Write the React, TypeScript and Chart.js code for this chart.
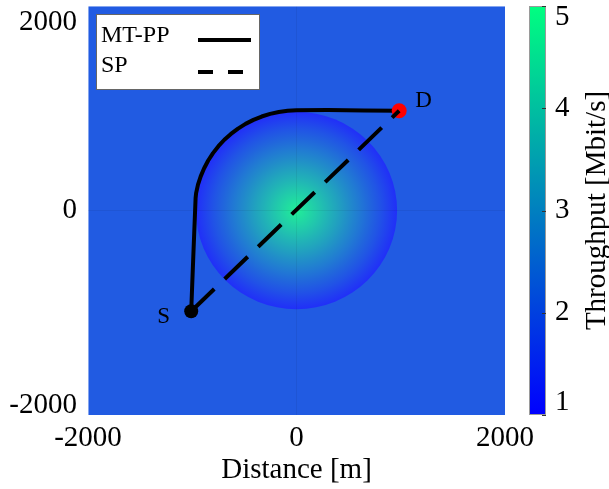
import React, { useEffect, useRef } from 'react';
import { Chart, registerables } from 'chart.js';

Chart.register(...registerables);

// ---------- data ----------
const AXIS_MIN = -2000;
const AXIS_MAX = 2000;
const X_TICKS = [-2000, 0, 2000];
const Y_TICKS = [-2000, 0, 2000];
const X_TITLE = 'Distance [m]';

const CB_TITLE = 'Throughput [Mbit/s]';
const CB_MIN = 1;
const CB_MAX = 5;
const CB_TICKS = [1, 2, 3, 4, 5];

const SERIES_LABELS = ['MT-PP', 'SP'];
const NODE_LABELS = ['S', 'D'];

// MT-PP path (m)
const MTPP_X = [-1010, -990, -968, -963, -945, -919, -886, -847, -801, -749, -692, -629, -561, -489, -413, -334, -253, -170, -85, 0, 300, 650, 985];
const MTPP_Y = [-985, -450, 120, 170, 253, 334, 413, 489, 561, 629, 692, 749, 801, 847, 886, 919, 945, 963, 975, 981, 982, 979, 975];

// source / destination (m)
const S_POINT = [-1010, -985];
const D_POINT = [985, 975];

// throughput field: radial profile around the centre (m, Mbit/s)
const FIELD_CENTER = [0, 0];
const FIELD_RADIUS = 965;
const FIELD_R = [0, 100, 200, 300, 400, 500, 600, 700, 800, 900, 965];
const FIELD_V = [4.7, 4.35, 4.0, 3.65, 3.3, 2.95, 2.6, 2.25, 1.9, 1.5, 1.25];
const FIELD_OUTSIDE = 2.05;

// ---------- style ----------
const FONT = "'Liberation Serif', 'Times New Roman', serif";
const FIELD_ALPHA = 0.87;
const Y_LABEL_SHIFT: Record<string, number> = { '2000': 16, '-2000': -10 };
const CB_LABEL_SHIFT: Record<string, number> = { '5': 11, '1': -13 };

const winter = (v: number) => {
  const t = Math.min(1, Math.max(0, (v - CB_MIN) / (CB_MAX - CB_MIN)));
  return [0, 255 * t, 255 * (1 - 0.5 * t)];
};
const rgb = (c: number[]) => `rgb(${c.map((x) => Math.round(x)).join(',')})`;
const fieldColor = (v: number) =>
  rgb(winter(v).map((ch) => ch * FIELD_ALPHA + 255 * (1 - FIELD_ALPHA)));

const shiftedLabel = (shifts: Record<string, number>) => (v: any) => {
  const s = String(v);
  const d = shifts[s];
  if (!d) return s;
  return d > 0 ? ['', s] : [s, ''];
};
const shiftedFont = (shifts: Record<string, number>, size: number) => (ctx: any) => {
  const v = ctx && ctx.tick ? String(ctx.tick.value) : '';
  const d = shifts[v];
  return { family: FONT, size, lineHeight: d ? `${Math.abs(d) * 2}px` : 1.2 };
};

const zeroPadding = (s: any) => {
  s.paddingTop = 0;
  s.paddingBottom = 0;
  s.paddingLeft = 0;
  s.paddingRight = 0;
};

const fieldPlugin = {
  id: 'fieldPlugin',
  beforeDraw(chart: any) {
    const { ctx, chartArea: a, scales } = chart;
    const xs = scales.x;
    const ys = scales.y;
    ctx.save();
    ctx.fillStyle = '#ffffff';
    ctx.fillRect(0, 0, chart.width, chart.height);
    ctx.beginPath();
    ctx.rect(a.left, a.top, a.right - a.left, a.bottom - a.top);
    ctx.clip();
    ctx.fillStyle = fieldColor(FIELD_OUTSIDE);
    ctx.fillRect(a.left, a.top, a.right - a.left, a.bottom - a.top);
    const cx = xs.getPixelForValue(FIELD_CENTER[0]);
    const cy = ys.getPixelForValue(FIELD_CENTER[1]);
    const rx = Math.abs(xs.getPixelForValue(FIELD_CENTER[0] + FIELD_RADIUS) - cx);
    const ry = Math.abs(ys.getPixelForValue(FIELD_CENTER[1] + FIELD_RADIUS) - cy);
    ctx.translate(cx, cy);
    ctx.scale(1, ry / rx);
    const g = ctx.createRadialGradient(0, 0, 0, 0, 0, rx);
    FIELD_R.forEach((r, i) => g.addColorStop(r / FIELD_RADIUS, fieldColor(FIELD_V[i])));
    ctx.fillStyle = g;
    ctx.beginPath();
    ctx.arc(0, 0, rx, 0, Math.PI * 2);
    ctx.fill();
    ctx.restore();

    // colour bar
    const cb = scales.cb;
    const top = cb.getPixelForValue(CB_MAX);
    const bottom = cb.getPixelForValue(CB_MIN);
    const left = a.right + 24;
    const w = 17;
    ctx.save();
    const lg = ctx.createLinearGradient(0, bottom, 0, top);
    lg.addColorStop(0, rgb(winter(CB_MIN)));
    lg.addColorStop(1, rgb(winter(CB_MAX)));
    ctx.fillStyle = lg;
    ctx.fillRect(left, top, w, bottom - top);
    ctx.strokeStyle = '#9a9a9a';
    ctx.lineWidth = 1;
    ctx.strokeRect(left + 0.5, top + 0.5, w - 1, bottom - top - 1);
    ctx.strokeStyle = '#333';
    CB_TICKS.forEach((t) => {
      const py = Math.round(cb.getPixelForValue(t)) + 0.5;
      ctx.beginPath();
      ctx.moveTo(left + w - 4, py);
      ctx.lineTo(left + w, py);
      ctx.stroke();
    });
    ctx.translate(a.right + 92, (top + bottom) / 2);
    ctx.rotate(-Math.PI / 2);
    ctx.fillStyle = '#000';
    ctx.font = `29px ${FONT}`;
    ctx.textAlign = 'center';
    ctx.textBaseline = 'middle';
    ctx.fillText(CB_TITLE, 0, 0);
    ctx.restore();
  },
  afterDatasetsDraw(chart: any) {
    const { ctx, chartArea: a, scales } = chart;
    const xs = scales.x;
    const ys = scales.y;
    ctx.save();
    // node labels
    ctx.fillStyle = '#000';
    ctx.font = `23px ${FONT}`;
    ctx.textAlign = 'left';
    ctx.textBaseline = 'alphabetic';
    const sx = xs.getPixelForValue(S_POINT[0]);
    const sy = ys.getPixelForValue(S_POINT[1]);
    ctx.fillText(NODE_LABELS[0], sx - 34, sy + 12);
    const dx = xs.getPixelForValue(D_POINT[0]);
    const dy = ys.getPixelForValue(D_POINT[1]);
    ctx.fillText(NODE_LABELS[1], dx + 16, dy - 4);

    // legend
    const bx = a.left + 8;
    const by = a.top + 8;
    ctx.fillStyle = '#ffffff';
    ctx.fillRect(bx, by, 163, 75);
    ctx.strokeStyle = '#666';
    ctx.lineWidth = 1;
    ctx.strokeRect(bx + 0.5, by + 0.5, 163, 75);
    ctx.fillStyle = '#000';
    ctx.font = `24px ${FONT}`;
    ctx.fillText(SERIES_LABELS[0], bx + 5, by + 28);
    ctx.fillText(SERIES_LABELS[1], bx + 5, by + 58);
    ctx.strokeStyle = '#000';
    ctx.lineWidth = 4;
    ctx.beginPath();
    ctx.moveTo(bx + 102, by + 26);
    ctx.lineTo(bx + 155, by + 26);
    ctx.stroke();
    ctx.setLineDash([15, 15]);
    ctx.beginPath();
    ctx.moveTo(bx + 102, by + 58);
    ctx.lineTo(bx + 150, by + 58);
    ctx.stroke();
    ctx.restore();
  },
};

export default function App() {
  const ref = useRef<HTMLCanvasElement | null>(null);

  useEffect(() => {
    if (!ref.current) return;
    const pt = (p: number[]) => ({ x: p[0], y: p[1] });
    const gridColor = (c: any) =>
      c.tick && c.tick.value === 0 ? 'rgba(0,0,0,0.06)' : 'rgba(255,255,255,0.45)';
    const chart = new Chart(ref.current, {
      type: 'scatter',
      data: {
        datasets: [
          {
            label: SERIES_LABELS[1],
            data: [pt(S_POINT), pt(D_POINT)],
            showLine: true,
            borderColor: '#000',
            borderWidth: 4,
            borderDash: [32, 14.5],
            borderCapStyle: 'butt',
            pointRadius: 0,
            xAxisID: 'x',
            yAxisID: 'y',
            order: 0,
          } as any,
          {
            label: NODE_LABELS[1],
            data: [pt(D_POINT)],
            pointRadius: 7.5,
            backgroundColor: '#ff0000',
            borderWidth: 0,
            xAxisID: 'x',
            yAxisID: 'y',
            order: 1,
          },
          {
            label: NODE_LABELS[0],
            data: [pt(S_POINT)],
            pointRadius: 7,
            backgroundColor: '#000',
            borderWidth: 0,
            xAxisID: 'x',
            yAxisID: 'y',
            order: 2,
          },
          {
            label: SERIES_LABELS[0],
            data: MTPP_X.map((x, i) => ({ x, y: MTPP_Y[i] })),
            showLine: true,
            borderColor: '#000',
            borderWidth: 4,
            borderJoinStyle: 'round',
            tension: 0,
            pointRadius: 0,
            xAxisID: 'x',
            yAxisID: 'y',
            order: 3,
          } as any,
        ],
      },
      options: {
        animation: false,
        responsive: false,
        devicePixelRatio: 1,
        events: [],
        layout: { padding: { top: 6, left: 0, right: 0, bottom: 0 }, autoPadding: false } as any,
        plugins: { legend: { display: false }, tooltip: { enabled: false } },
        scales: {
          x: {
            type: 'linear',
            position: 'bottom',
            min: AXIS_MIN,
            max: AXIS_MAX,
            afterBuildTicks: (s: any) => {
              s.ticks = X_TICKS.map((v) => ({ value: v }));
            },
            afterFit: (s: any) => {
              s.height = 74;
              zeroPadding(s);
            },
            grid: { color: gridColor, drawTicks: false, lineWidth: 1 },
            border: { display: false },
            ticks: {
              autoSkip: false,
              maxRotation: 0,
              padding: 6,
              color: '#000',
              font: { family: FONT, size: 29 },
              callback: (v: any) => String(v),
            },
            title: {
              display: true,
              text: X_TITLE,
              color: '#000',
              font: { family: FONT, size: 29 },
              padding: { top: 0, bottom: 1 },
            },
          },
          y: {
            type: 'linear',
            position: 'left',
            min: AXIS_MIN,
            max: AXIS_MAX,
            afterBuildTicks: (s: any) => {
              s.ticks = Y_TICKS.map((v) => ({ value: v }));
            },
            afterFit: (s: any) => {
              s.width = 88;
              zeroPadding(s);
            },
            grid: { color: gridColor, drawTicks: false, lineWidth: 1 },
            border: { display: false },
            ticks: {
              autoSkip: false,
              padding: 11,
              color: '#000',
              font: shiftedFont(Y_LABEL_SHIFT, 29) as any,
              callback: shiftedLabel(Y_LABEL_SHIFT) as any,
            },
          },
          cb: {
            type: 'linear',
            axis: 'y',
            position: 'right',
            min: CB_MIN,
            max: CB_MAX,
            afterBuildTicks: (s: any) => {
              s.ticks = CB_TICKS.map((v) => ({ value: v }));
            },
            afterFit: (s: any) => {
              s.width = 104;
              zeroPadding(s);
            },
            grid: { display: false, drawTicks: false },
            border: { display: false },
            ticks: {
              autoSkip: false,
              padding: 50,
              color: '#000',
              font: shiftedFont(CB_LABEL_SHIFT, 29) as any,
              callback: shiftedLabel(CB_LABEL_SHIFT) as any,
            },
          } as any,
        },
      },
      plugins: [fieldPlugin],
    });
    return () => chart.destroy();
  }, []);

  return (
    <div style={{ position: 'fixed', left: 0, top: 0, width: 609, height: 489, background: '#fff' }}>
      <canvas ref={ref} width={609} height={489} style={{ display: 'block', width: 609, height: 489 }} />
    </div>
  );
}
